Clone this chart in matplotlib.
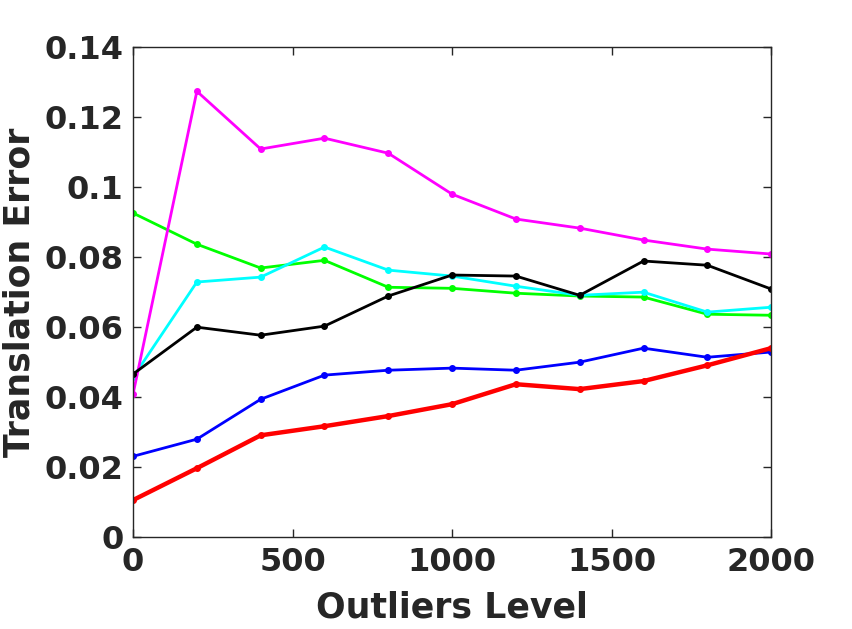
import numpy as np
import matplotlib
matplotlib.use('Agg')
import matplotlib.pyplot as plt

plt.rc('font', family='DejaVu Sans', weight='bold', size=23)

# Outlier levels
outliers = [0, 200, 400, 600, 800, 1000, 1200, 1400, 1600, 1800, 2000]

# Translation errors per method
err_green = [0.0926, 0.0837, 0.0769, 0.0791, 0.0714, 0.0711, 0.0697, 0.0689, 0.0686, 0.0637, 0.0634]
err_cyan = [0.0457, 0.0729, 0.0743, 0.0829, 0.0763, 0.0746, 0.0717, 0.0691, 0.0700, 0.0643, 0.0657]
err_magenta = [0.0409, 0.1274, 0.1109, 0.1140, 0.1097, 0.0980, 0.0909, 0.0883, 0.0849, 0.0823, 0.0809]
err_black = [0.0466, 0.0600, 0.0577, 0.0603, 0.0689, 0.0749, 0.0746, 0.0691, 0.0789, 0.0777, 0.0709]
err_blue = [0.0231, 0.0280, 0.0394, 0.0463, 0.0477, 0.0483, 0.0477, 0.0500, 0.0540, 0.0514, 0.0529]
err_red = [0.0106, 0.0197, 0.0291, 0.0317, 0.0346, 0.0380, 0.0437, 0.0423, 0.0446, 0.0491, 0.0540]

fig = plt.figure(figsize=(8.53, 6.29), dpi=100)
ax = fig.add_axes([0.156, 0.146, 0.748, 0.779])

ax.plot(outliers, err_green, '-o', color='#00ff00', lw=2, ms=4)
ax.plot(outliers, err_cyan, '-o', color='#00ffff', lw=2, ms=4)
ax.plot(outliers, err_magenta, '-o', color='#ff00ff', lw=2, ms=4)
ax.plot(outliers, err_black, '-o', color='black', lw=2, ms=4)
ax.plot(outliers, err_blue, '-o', color='#0000ff', lw=2, ms=4)
ax.plot(outliers, err_red, '-o', color='#ff0000', lw=3.2, ms=4)

ax.set_xlim(0, 2000)
ax.set_ylim(0, 0.14)
ax.set_xticks([0, 500, 1000, 1500, 2000])
ax.set_yticks([0, 0.02, 0.04, 0.06, 0.08, 0.1, 0.12, 0.14])
ax.set_yticklabels(['0', '0.02', '0.04', '0.06', '0.08', '0.1', '0.12', '0.14'])
ax.tick_params(direction='in', top=True, right=True, length=6, width=1,
               colors='#262626', labelcolor='#262626', pad=7)
for s in ax.spines.values():
    s.set_color('#262626')
    s.set_linewidth(1)

ax.set_xlabel('Outliers Level', fontsize=25, fontweight='bold', color='#262626', labelpad=9)
ax.set_ylabel('Translation Error', fontsize=25, fontweight='bold', color='#262626', labelpad=6)

fig.savefig('out.png', dpi=100)
